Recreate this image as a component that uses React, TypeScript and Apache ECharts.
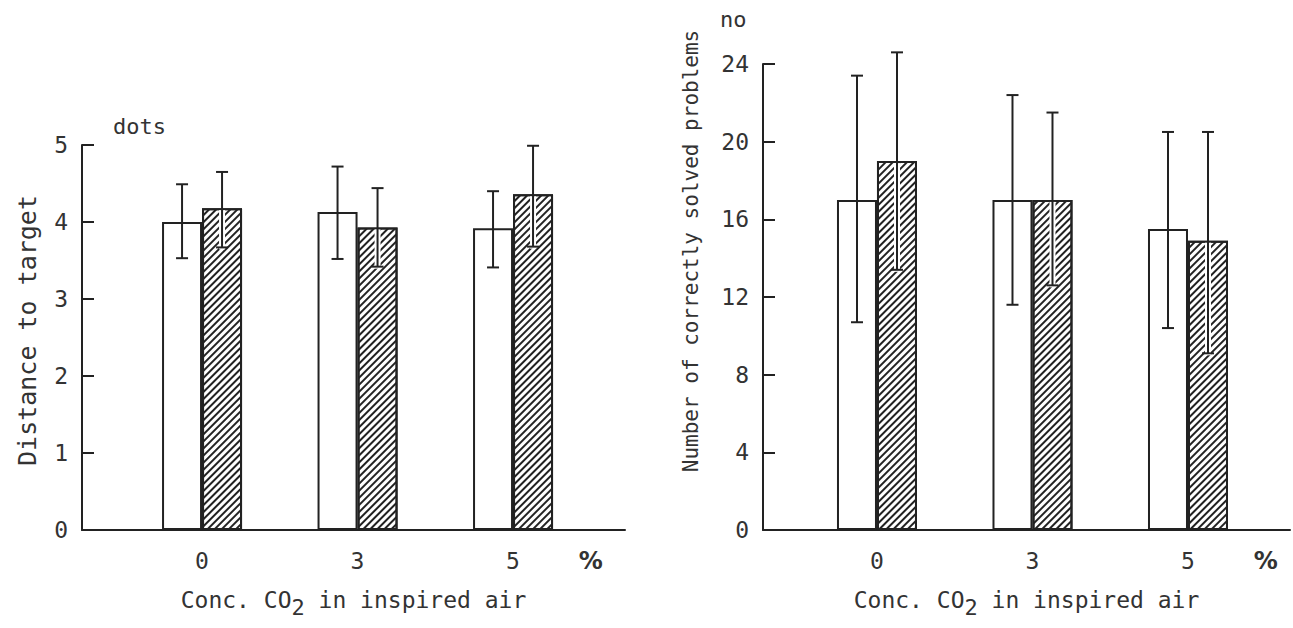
import React, { useEffect, useRef } from 'react';
import * as echarts from 'echarts';

// Categories: CO2 concentration in inspired air (%)
const concLabels = ['0', '3', '5'];
const unitLabel = '%';

// Left panel: distance to target (dots)
const distOpen = [4.0, 4.13, 3.92];
const distOpenLow = [3.53, 3.52, 3.41];
const distOpenHigh = [4.49, 4.72, 4.4];
const distHatch = [4.18, 3.93, 4.36];
const distHatchLow = [3.67, 3.42, 3.68];
const distHatchHigh = [4.65, 4.44, 4.99];

// Right panel: number of correctly solved problems
const probOpen = [17.0, 17.0, 15.5];
const probOpenLow = [10.7, 11.6, 10.4];
const probOpenHigh = [23.4, 22.4, 20.5];
const probHatch = [19.0, 17.0, 14.9];
const probHatchLow = [13.4, 12.6, 9.1];
const probHatchHigh = [24.6, 21.5, 20.5];

const distTicks = [0, 1, 2, 3, 4, 5];
const probTicks = [0, 4, 8, 12, 16, 20, 24];

const FONT = 'DejaVu Sans Mono';
const INK = '#222';
const TXT = '#333';
const BAR_W = 40;

const xTickPos = [0, 1, 2, 2.5];
const xTickText = [...concLabels, unitLabel];

function errRender(offset: number, clear: boolean) {
  return (params: any, api: any) => {
    const x = api.value(0);
    const lo = api.coord([x, api.value(1)]);
    const hi = api.coord([x, api.value(2)]);
    const cx = lo[0] + offset;
    const cap = 6;
    const children: any[] = [];
    if (clear) {
      const barTop = api.coord([x, api.value(3)])[1];
      const top = Math.max(barTop + 2, hi[1]);
      if (lo[1] > top) {
        children.push({
          type: 'line',
          shape: { x1: cx, y1: top, x2: cx, y2: lo[1] + 2 },
          style: { stroke: '#fff', lineWidth: 6 },
        });
      }
    }
    children.push({
      type: 'line',
      shape: { x1: cx, y1: hi[1], x2: cx, y2: lo[1] },
      style: { stroke: INK, lineWidth: 2 },
    });
    children.push({
      type: 'line',
      shape: { x1: cx - cap, y1: hi[1], x2: cx + cap, y2: hi[1] },
      style: { stroke: INK, lineWidth: 2 },
    });
    children.push({
      type: 'line',
      shape: { x1: cx - cap, y1: lo[1], x2: cx + cap, y2: lo[1] },
      style: { stroke: INK, lineWidth: 2 },
    });
    return { type: 'group', children };
  };
}

const hatchDecal = {
  symbol: 'rect',
  symbolSize: 1,
  dashArrayX: [1, 0],
  dashArrayY: [2, 3],
  rotation: -Math.PI / 4,
  color: INK,
};

function xAxisFor(gridIndex: number, min: number, max: number) {
  return {
    type: 'value',
    gridIndex,
    min,
    max,
    axisLine: { show: true, onZero: false, lineStyle: { color: INK, width: 2 } },
    axisTick: { show: false },
    splitLine: { show: false },
    axisLabel: {
      customValues: xTickPos,
      formatter: (v: number) => {
        const i = xTickPos.findIndex((p) => Math.abs(p - v) < 1e-6);
        if (i < 0) return '';
        return i === xTickText.length - 1 ? '{p|' + xTickText[i] + '}' : xTickText[i];
      },
      color: TXT,
      fontFamily: FONT,
      fontSize: 23,
      margin: 19,
      rich: {
        p: { fontFamily: 'DejaVu Sans', fontSize: 24, fontWeight: 'bold', color: TXT },
      },
    },
    name: '{a|Conc. CO}{s|2}{a| in inspired air}',
    nameLocation: 'middle',
    nameGap: 58,
    nameTextStyle: {
      rich: {
        a: { fontFamily: FONT, fontSize: 23, color: TXT, verticalAlign: 'top', lineHeight: 26 },
        s: { fontFamily: FONT, fontSize: 22, color: TXT, verticalAlign: 'top', lineHeight: 26, padding: [8, 0, 0, 0] },
      },
    },
  };
}

function yAxisFor(
  gridIndex: number,
  ticks: number[],
  name: string,
  nameGap: number,
  nameSize: number,
  nameShift: number
) {
  return {
    type: 'value',
    gridIndex,
    min: ticks[0],
    max: ticks[ticks.length - 1],
    interval: ticks[1] - ticks[0],
    axisLine: { show: true, onZero: false, lineStyle: { color: INK, width: 2 } },
    axisTick: { show: true, inside: true, length: 12, lineStyle: { color: INK, width: 2 } },
    splitLine: { show: false },
    axisLabel: { color: TXT, fontFamily: FONT, fontSize: 23, margin: 14 },
    name,
    nameLocation: 'middle',
    nameRotate: 90,
    nameGap,
    nameTextStyle: { fontFamily: FONT, fontSize: nameSize, color: TXT, padding: [0, 0, 0, nameShift] },
  };
}

function barsFor(
  idx: number,
  open: number[], openLow: number[], openHigh: number[],
  hatch: number[], hatchLow: number[], hatchHigh: number[]
) {
  return [
    {
      type: 'bar',
      name: 'air',
      xAxisIndex: idx,
      yAxisIndex: idx,
      barWidth: BAR_W,
      barGap: '0%',
      data: open.map((v, i) => [i, v]),
      itemStyle: { color: '#fff', borderColor: INK, borderWidth: 2 },
      z: 2,
    },
    {
      type: 'bar',
      name: 'CO2',
      xAxisIndex: idx,
      yAxisIndex: idx,
      barWidth: BAR_W,
      barGap: '0%',
      data: hatch.map((v, i) => [i, v]),
      itemStyle: { color: '#fff', borderColor: INK, borderWidth: 2, decal: hatchDecal },
      z: 2,
    },
    {
      type: 'custom',
      xAxisIndex: idx,
      yAxisIndex: idx,
      renderItem: errRender(-BAR_W / 2, false),
      encode: { x: 0, y: [1, 2] },
      data: open.map((v, i) => [i, openLow[i], openHigh[i], v]),
      z: 5,
    },
    {
      type: 'custom',
      xAxisIndex: idx,
      yAxisIndex: idx,
      renderItem: errRender(BAR_W / 2, true),
      encode: { x: 0, y: [1, 2] },
      data: hatch.map((v, i) => [i, hatchLow[i], hatchHigh[i], v]),
      z: 5,
    },
  ];
}

export default function App() {
  const ref = useRef<HTMLDivElement>(null);
  useEffect(() => {
    if (!ref.current) return;
    const chart = echarts.init(ref.current, undefined, { renderer: 'svg' });
    chart.setOption({
      animation: false,
      backgroundColor: '#fff',
      textStyle: { fontFamily: FONT },
      grid: [
        { left: 82, top: 145, width: 543, height: 385 },
        { left: 763, top: 64, width: 527, height: 466 },
      ],
      xAxis: [xAxisFor(0, -0.772, 2.72), xAxisFor(1, -0.733, 2.656)],
      yAxis: [
        yAxisFor(0, distTicks, 'Distance to target', 42, 25, 14),
        yAxisFor(1, probTicks, 'Number of correctly solved problems', 62, 21, 92),
      ],
      graphic: [
        { type: 'text', left: 113, top: 115, style: { text: 'dots', fontFamily: FONT, fontSize: 22, fill: TXT } },
        { type: 'text', left: 720, top: 8, style: { text: 'no', fontFamily: FONT, fontSize: 22, fill: TXT } },
      ],
      series: [
        ...barsFor(0, distOpen, distOpenLow, distOpenHigh, distHatch, distHatchLow, distHatchHigh),
        ...barsFor(1, probOpen, probOpenLow, probOpenHigh, probHatch, probHatchLow, probHatchHigh),
      ],
    });
    return () => chart.dispose();
  }, []);
  return (
    <div
      ref={ref}
      style={{ position: 'absolute', left: 0, top: 0, width: 1293, height: 628 }}
    />
  );
}
